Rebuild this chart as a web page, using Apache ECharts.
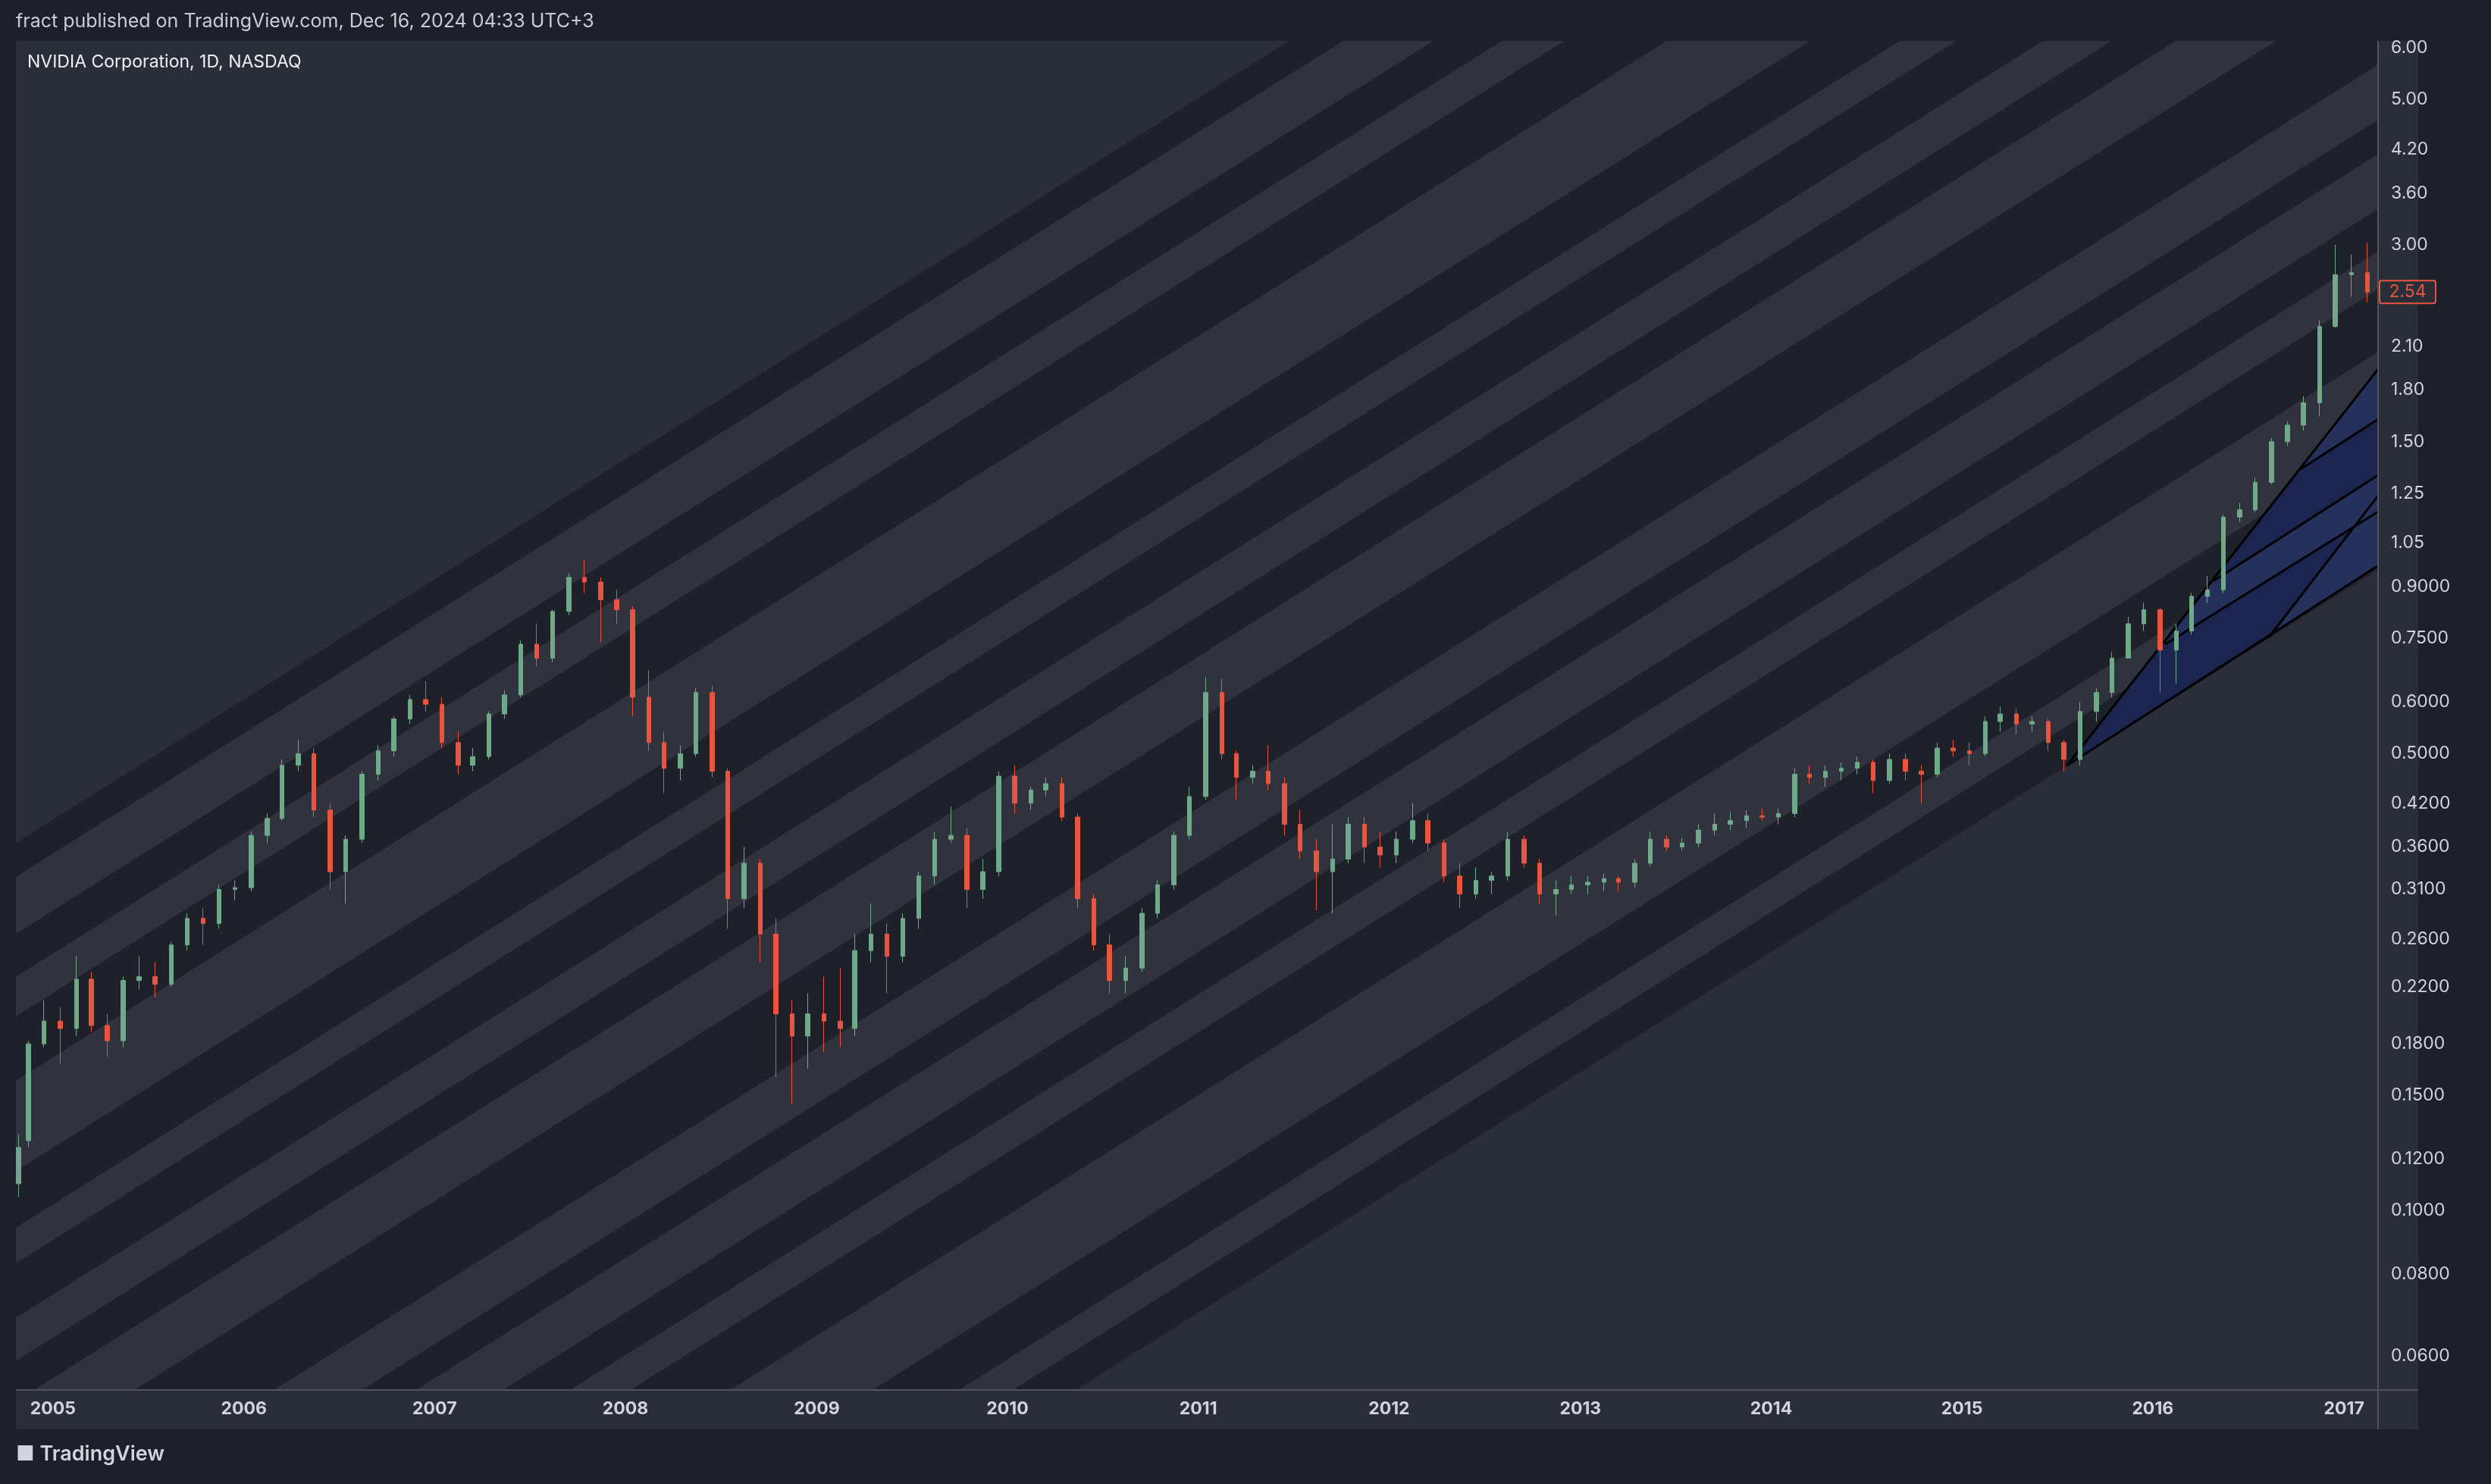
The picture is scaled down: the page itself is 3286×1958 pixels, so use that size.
<!DOCTYPE html>
<html lang="en">
  <head>
    <meta charset="UTF-8" />
    <title>NVIDIA Corporation, 1D, NASDAQ</title>
    <script src="https://cdn.jsdelivr.net/npm/echarts@6/dist/echarts.min.js"></script>
    <style>
      html, body { margin: 0; padding: 0; background: #1e2029; }
      #main { width: 3286px; height: 1958px; }
    </style>
  </head>
  <body>
    <div id="main"></div>

    <script>
      // monthly candles: [date, open, high, low, close]
      const monthly = [
        ['2004-10-27', 0.110, 0.131, 0.105, 0.125],
        ['2004-11-15', 0.128, 0.182, 0.125, 0.180],
        ['2004-12-15', 0.180, 0.210, 0.178, 0.195],
        ['2005-01-15', 0.195, 0.205, 0.168, 0.190],
        ['2005-02-15', 0.190, 0.245, 0.185, 0.226],
        ['2005-03-15', 0.226, 0.232, 0.188, 0.192],
        ['2005-04-15', 0.192, 0.200, 0.172, 0.182],
        ['2005-05-15', 0.182, 0.228, 0.178, 0.225],
        ['2005-06-15', 0.225, 0.245, 0.218, 0.228],
        ['2005-07-15', 0.228, 0.240, 0.212, 0.222],
        ['2005-08-15', 0.222, 0.258, 0.220, 0.255],
        ['2005-09-15', 0.255, 0.285, 0.250, 0.280],
        ['2005-10-15', 0.280, 0.290, 0.255, 0.275],
        ['2005-11-15', 0.275, 0.315, 0.270, 0.310],
        ['2005-12-15', 0.310, 0.320, 0.298, 0.312],
        ['2006-01-15', 0.312, 0.380, 0.308, 0.375],
        ['2006-02-15', 0.375, 0.405, 0.365, 0.398],
        ['2006-03-15', 0.398, 0.490, 0.395, 0.480],
        ['2006-04-15', 0.480, 0.525, 0.470, 0.500],
        ['2006-05-15', 0.500, 0.510, 0.400, 0.410],
        ['2006-06-15', 0.410, 0.420, 0.310, 0.330],
        ['2006-07-15', 0.330, 0.375, 0.295, 0.370],
        ['2006-08-15', 0.370, 0.470, 0.365, 0.465],
        ['2006-09-15', 0.465, 0.515, 0.455, 0.505],
        ['2006-10-15', 0.505, 0.570, 0.495, 0.565],
        ['2006-11-15', 0.565, 0.615, 0.555, 0.605],
        ['2006-12-15', 0.605, 0.645, 0.580, 0.595],
        ['2007-01-15', 0.595, 0.610, 0.510, 0.520],
        ['2007-02-15', 0.520, 0.540, 0.465, 0.480],
        ['2007-03-15', 0.480, 0.510, 0.470, 0.495],
        ['2007-04-15', 0.495, 0.580, 0.490, 0.575],
        ['2007-05-15', 0.575, 0.625, 0.565, 0.615],
        ['2007-06-15', 0.615, 0.745, 0.610, 0.735],
        ['2007-07-15', 0.735, 0.790, 0.680, 0.700],
        ['2007-08-15', 0.700, 0.830, 0.690, 0.825],
        ['2007-09-15', 0.825, 0.945, 0.815, 0.930],
        ['2007-10-15', 0.930, 0.990, 0.880, 0.915],
        ['2007-11-15', 0.915, 0.930, 0.740, 0.860],
        ['2007-12-15', 0.860, 0.890, 0.790, 0.830],
        ['2008-01-15', 0.830, 0.840, 0.570, 0.610],
        ['2008-02-15', 0.610, 0.670, 0.505, 0.520],
        ['2008-03-15', 0.520, 0.540, 0.435, 0.475],
        ['2008-04-15', 0.475, 0.515, 0.455, 0.500],
        ['2008-05-15', 0.500, 0.630, 0.495, 0.620],
        ['2008-06-15', 0.620, 0.635, 0.460, 0.470],
        ['2008-07-15', 0.470, 0.475, 0.270, 0.300],
        ['2008-08-15', 0.300, 0.360, 0.290, 0.340],
        ['2008-09-15', 0.340, 0.345, 0.240, 0.265],
        ['2008-10-15', 0.265, 0.280, 0.160, 0.200],
        ['2008-11-15', 0.200, 0.210, 0.146, 0.185],
        ['2008-12-15', 0.185, 0.215, 0.165, 0.200],
        ['2009-01-15', 0.200, 0.228, 0.175, 0.195],
        ['2009-02-15', 0.195, 0.235, 0.178, 0.190],
        ['2009-03-15', 0.190, 0.265, 0.185, 0.250],
        ['2009-04-15', 0.250, 0.295, 0.240, 0.265],
        ['2009-05-15', 0.265, 0.275, 0.215, 0.245],
        ['2009-06-15', 0.245, 0.285, 0.240, 0.280],
        ['2009-07-15', 0.280, 0.330, 0.270, 0.325],
        ['2009-08-15', 0.325, 0.380, 0.315, 0.370],
        ['2009-09-15', 0.370, 0.415, 0.365, 0.375],
        ['2009-10-15', 0.375, 0.385, 0.290, 0.310],
        ['2009-11-15', 0.310, 0.345, 0.300, 0.330],
        ['2009-12-15', 0.330, 0.470, 0.325, 0.462],
        ['2010-01-15', 0.462, 0.480, 0.405, 0.420],
        ['2010-02-15', 0.420, 0.445, 0.410, 0.440],
        ['2010-03-15', 0.440, 0.460, 0.430, 0.450],
        ['2010-04-15', 0.450, 0.460, 0.395, 0.400],
        ['2010-05-15', 0.400, 0.405, 0.290, 0.300],
        ['2010-06-15', 0.300, 0.305, 0.250, 0.255],
        ['2010-07-15', 0.255, 0.265, 0.215, 0.225],
        ['2010-08-15', 0.225, 0.245, 0.215, 0.235],
        ['2010-09-15', 0.235, 0.290, 0.232, 0.285],
        ['2010-10-15', 0.285, 0.320, 0.280, 0.315],
        ['2010-11-15', 0.315, 0.380, 0.310, 0.375],
        ['2010-12-15', 0.375, 0.445, 0.370, 0.430],
        ['2011-01-15', 0.430, 0.655, 0.425, 0.620],
        ['2011-02-15', 0.620, 0.650, 0.490, 0.500],
        ['2011-03-15', 0.500, 0.505, 0.425, 0.460],
        ['2011-04-15', 0.460, 0.480, 0.450, 0.470],
        ['2011-05-15', 0.470, 0.515, 0.440, 0.450],
        ['2011-06-15', 0.450, 0.460, 0.375, 0.390],
        ['2011-07-15', 0.390, 0.410, 0.345, 0.355],
        ['2011-08-15', 0.355, 0.370, 0.288, 0.330],
        ['2011-09-15', 0.330, 0.390, 0.285, 0.345],
        ['2011-10-15', 0.345, 0.400, 0.340, 0.390],
        ['2011-11-15', 0.390, 0.400, 0.340, 0.360],
        ['2011-12-15', 0.360, 0.380, 0.335, 0.350],
        ['2012-01-15', 0.350, 0.380, 0.340, 0.370],
        ['2012-02-15', 0.370, 0.420, 0.365, 0.395],
        ['2012-03-15', 0.395, 0.405, 0.355, 0.365],
        ['2012-04-15', 0.365, 0.370, 0.318, 0.325],
        ['2012-05-15', 0.325, 0.340, 0.290, 0.305],
        ['2012-06-15', 0.305, 0.335, 0.300, 0.320],
        ['2012-07-15', 0.320, 0.330, 0.305, 0.325],
        ['2012-08-15', 0.325, 0.380, 0.320, 0.370],
        ['2012-09-15', 0.370, 0.375, 0.335, 0.340],
        ['2012-10-15', 0.340, 0.345, 0.295, 0.305],
        ['2012-11-15', 0.305, 0.320, 0.283, 0.310],
        ['2012-12-15', 0.310, 0.325, 0.305, 0.315],
        ['2013-01-15', 0.315, 0.325, 0.305, 0.318],
        ['2013-02-15', 0.318, 0.328, 0.308, 0.322],
        ['2013-03-15', 0.322, 0.325, 0.308, 0.318],
        ['2013-04-15', 0.318, 0.345, 0.312, 0.340],
        ['2013-05-15', 0.340, 0.380, 0.336, 0.370],
        ['2013-06-15', 0.370, 0.375, 0.355, 0.360],
        ['2013-07-15', 0.360, 0.372, 0.355, 0.365],
        ['2013-08-15', 0.365, 0.390, 0.360, 0.382],
        ['2013-09-15', 0.382, 0.405, 0.375, 0.390],
        ['2013-10-15', 0.390, 0.408, 0.382, 0.395],
        ['2013-11-15', 0.395, 0.410, 0.385, 0.402],
        ['2013-12-15', 0.402, 0.412, 0.395, 0.400],
        ['2014-01-15', 0.400, 0.412, 0.390, 0.405],
        ['2014-02-15', 0.405, 0.475, 0.400, 0.465],
        ['2014-03-15', 0.465, 0.480, 0.450, 0.460],
        ['2014-04-15', 0.460, 0.480, 0.445, 0.470],
        ['2014-05-15', 0.470, 0.485, 0.455, 0.475],
        ['2014-06-15', 0.475, 0.495, 0.465, 0.485],
        ['2014-07-15', 0.485, 0.490, 0.435, 0.455],
        ['2014-08-15', 0.455, 0.500, 0.450, 0.490],
        ['2014-09-15', 0.490, 0.500, 0.455, 0.470],
        ['2014-10-15', 0.470, 0.480, 0.420, 0.465],
        ['2014-11-15', 0.465, 0.520, 0.460, 0.510],
        ['2014-12-15', 0.510, 0.525, 0.495, 0.505],
        ['2015-01-15', 0.505, 0.520, 0.480, 0.500],
        ['2015-02-15', 0.500, 0.570, 0.495, 0.560],
        ['2015-03-15', 0.560, 0.590, 0.540, 0.575],
        ['2015-04-15', 0.575, 0.585, 0.535, 0.555],
        ['2015-05-15', 0.555, 0.570, 0.540, 0.560],
        ['2015-06-15', 0.560, 0.565, 0.505, 0.520],
        ['2015-07-15', 0.520, 0.525, 0.470, 0.490],
        ['2015-08-15', 0.490, 0.600, 0.480, 0.580],
        ['2015-09-15', 0.580, 0.630, 0.560, 0.620],
        ['2015-10-15', 0.620, 0.715, 0.610, 0.700],
        ['2015-11-15', 0.700, 0.810, 0.700, 0.790],
        ['2015-12-15', 0.790, 0.850, 0.770, 0.830],
        ['2016-01-15', 0.830, 0.835, 0.620, 0.720],
        ['2016-02-15', 0.720, 0.790, 0.640, 0.770],
        ['2016-03-15', 0.770, 0.880, 0.760, 0.870],
        ['2016-04-15', 0.870, 0.935, 0.850, 0.890],
        ['2016-05-15', 0.890, 1.160, 0.880, 1.150],
        ['2016-06-15', 1.150, 1.210, 1.130, 1.180],
        ['2016-07-15', 1.180, 1.320, 1.170, 1.300],
        ['2016-08-15', 1.300, 1.520, 1.290, 1.500],
        ['2016-09-15', 1.500, 1.610, 1.480, 1.590],
        ['2016-10-15', 1.590, 1.760, 1.560, 1.720],
        ['2016-11-15', 1.720, 2.300, 1.640, 2.250],
        ['2016-12-15', 2.250, 3.000, 2.240, 2.700],
        ['2017-01-15', 2.700, 2.900, 2.500, 2.720],
        ['2017-02-15', 2.720, 3.020, 2.450, 2.540],
      ]

      // price axis labels
      const priceTicks = [6, 5, 4.2, 3.6, 3, 2.1, 1.8, 1.5, 1.25, 1.05, 0.9, 0.75, 0.6, 0.5, 0.42, 0.36, 0.31, 0.26, 0.22, 0.18, 0.15, 0.12, 0.1, 0.08, 0.06]
      const yearTicks = [2005, 2006, 2007, 2008, 2009, 2010, 2011, 2012, 2013, 2014, 2015, 2016, 2017]

      // diagonal band boundaries: price of each line at the left edge, top to bottom
      const bandStart = '2004-10-22'
      const bandEnd = '2017-03-07'
      const bandPrices = [
        0.3652, 0.3239, 0.2651, 0.2278, 0.1983, 0.158, 0.115, 0.0942, 0.0831, 0.0686, 0.0589, 0.0511,
        0.0409, 0.03, 0.0247, 0.0219, 0.01806, 0.01556, 0.01361, 0.01091, 0.00796, 0.00657, 0.00583, 0.00507,
      ]
      const bandRise = 0.1839 // decades per year, slope of the bands on the log scale

      // fan grid drawn from the 2015 low: [date1, price1, date2, price2]
      const fanLines = [
        ['2015-07-21', 0.4796, '2017-03-07', 1.936],
        ['2015-07-21', 0.4796, '2017-03-07', 0.9697],
        ['2016-10-09', 1.361, '2017-03-07', 1.623],
        ['2016-04-27', 0.919, '2017-03-07', 1.333],
        ['2016-01-25', 0.735, '2017-03-07', 1.172],
        ['2016-08-10', 0.753, '2017-03-07', 1.24],
      ]
      // fan fills: list of [date, price] corners and shade (0 dark, 1 light)
      const fanFills = [
        [[['2015-07-21', 0.4796], ['2017-03-07', 1.936], ['2017-03-07', 0.9697]], 0],
        [[['2016-10-09', 1.361], ['2017-03-07', 1.936], ['2017-03-07', 1.623]], 1],
        [[['2016-01-25', 0.735], ['2016-04-27', 0.919], ['2017-03-07', 1.333], ['2017-03-07', 1.172]], 1],
        [[['2016-08-10', 0.753], ['2017-03-07', 1.24], ['2017-03-07', 0.9697]], 1],
      ]

      const YEAR = 365.25 * 24 * 3600 * 1000
      const t = s => +new Date(s)

      const candleData = monthly.map(r => [t(r[0]), r[1], r[4], r[3], r[2]])
      const last = monthly[monthly.length - 1]
      const lastClose = last[4]

      const bandData = []
      for (let i = 0; i < bandPrices.length - 1; i++) {
        bandData.push([t(bandStart), t(bandEnd), bandPrices[i], bandPrices[i + 1], i % 2])
      }
      const bandColors = ['#1f212a', '#30333e']
      const fanColors = ['#1b2550', '#25315a']

      const myChart = echarts.init(document.getElementById('main'))

      function clipRect(params) {
        const c = params.coordSys
        return { type: 'rect', shape: { x: c.x, y: c.y, width: c.width, height: c.height } }
      }

      const options = {
        backgroundColor: '#1e2029',
        animation: false,
        graphic: [
          { type: 'rect', shape: { x: 21, y: 54, width: 3169, height: 1832 }, style: { fill: '#2a2e39' }, z: -10 },
          { type: 'text', left: 21, top: 16, style: { text: 'fract published on TradingView.com, Dec 16, 2024 04:33 UTC+3', fill: '#c9ccd4', font: '25px Inter' } },
          { type: 'text', left: 36, top: 71, z: 100, style: { text: 'NVIDIA Corporation, 1D, NASDAQ', fill: '#eef0f4', font: '23px Inter' } },
          { type: 'text', left: 21, top: 1905, style: { text: '\u25A0 TradingView', fill: '#d1d4dc', font: '600 27px Inter' } },
          { type: 'line', shape: { x1: 3137, y1: 54, x2: 3137, y2: 1886 }, style: { stroke: '#50535e', lineWidth: 2 }, z: 50 },
          { type: 'line', shape: { x1: 21, y1: 1834, x2: 3190, y2: 1834 }, style: { stroke: '#50535e', lineWidth: 2 }, z: 50 },
        ],
        grid: { left: 21, top: 54, right: 149, bottom: 124 },
        xAxis: {
          type: 'value',
          min: t(bandStart),
          max: t(bandEnd),
          axisLine: { show: false },
          axisTick: { show: false },
          splitLine: { show: false },
          axisLabel: {
            customValues: yearTicks.map(y => Date.UTC(y, 0, 1)),
            formatter: v => String(new Date(v).getUTCFullYear()),
            color: '#d1d4dc',
            fontFamily: 'Inter',
            fontWeight: 'bold',
            fontSize: 23,
            margin: 14,
          },
        },
        yAxis: {
          type: 'log',
          logBase: 10,
          position: 'right',
          min: 0.0532,
          max: 6.15,
          axisLine: { show: false },
          axisTick: { show: false },
          splitLine: { show: false },
          axisLabel: {
            customValues: priceTicks,
            formatter: v => (v >= 1 ? v.toFixed(2) : v.toFixed(4)),
            color: '#d1d4dc',
            fontFamily: 'Inter',
            fontSize: 23,
            margin: 17,
            align: 'left',
          },
        },
        series: [
          {
            type: 'custom',
            z: 1,
            silent: true,
            data: bandData,
            encode: { x: [0, 1], y: [2, 3] },
            renderItem: function (params, api) {
              const L = api.value(0)
              const R = api.value(1)
              const k = Math.pow(10, (bandRise * (R - L)) / YEAR)
              const pts = [
                api.coord([L, api.value(2)]),
                api.coord([R, api.value(2) * k]),
                api.coord([R, api.value(3) * k]),
                api.coord([L, api.value(3)]),
              ]
              return {
                type: 'group',
                clipPath: clipRect(params),
                children: [{ type: 'polygon', shape: { points: pts }, style: { fill: bandColors[api.value(4)] } }],
              }
            },
          },
          {
            type: 'custom',
            z: 2,
            silent: true,
            data: [[t('2016-01-01'), 1]],
            renderItem: function (params, api) {
              const children = []
              fanFills.forEach(f => {
                children.push({
                  type: 'polygon',
                  shape: { points: f[0].map(p => api.coord([t(p[0]), p[1]])) },
                  style: { fill: fanColors[f[1]] },
                })
              })
              fanLines.forEach(l => {
                const a = api.coord([t(l[0]), l[1]])
                const b = api.coord([t(l[2]), l[3]])
                children.push({
                  type: 'line',
                  shape: { x1: a[0], y1: a[1], x2: b[0], y2: b[1] },
                  style: { stroke: '#000000', lineWidth: 3 },
                })
              })
              return { type: 'group', clipPath: clipRect(params), children }
            },
          },
          {
            type: 'candlestick',
            z: 3,
            data: candleData,
            encode: { x: 0, y: [1, 2, 3, 4] },
            barWidth: 6,
            itemStyle: {
              color: '#6fa98a',
              color0: '#e8553f',
              borderColor: '#6fa98a',
              borderColor0: '#e8553f',
              borderWidth: 1,
            },
          },
          {
            // last price tag on the price scale
            type: 'custom',
            z: 60,
            silent: true,
            data: [[t(last[0]), lastClose]],
            renderItem: function (params, api) {
              const p = api.coord([api.value(0), api.value(1)])
              const c = params.coordSys
              return {
                type: 'group',
                children: [
                  { type: 'rect', shape: { x: c.x + c.width + 2, y: p[1] - 15, width: 74, height: 30, r: 3 }, style: { fill: '#2a2e39', stroke: '#e8553f', lineWidth: 2 } },
                  { type: 'text', x: c.x + c.width + 39, y: p[1], style: { text: lastClose.toFixed(2), fill: '#e8553f', font: '23px Inter', align: 'center', verticalAlign: 'middle' } },
                ],
              }
            },
          },
        ],
      }
      myChart.setOption(options)
    </script>
  </body>
</html>
